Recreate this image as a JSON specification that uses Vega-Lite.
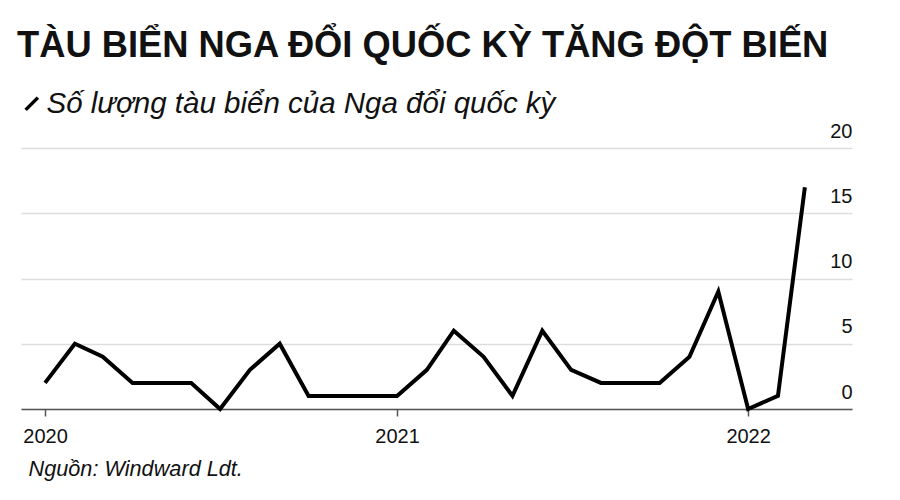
{
  "$schema": "https://vega.github.io/schema/vega-lite/v6.json",
  "width": 831,
  "height": 261,
  "autosize": {"type": "none"},
  "padding": {"left": 21, "top": 148, "right": 48, "bottom": 91},
  "background": "white",
  "title": {
    "text": "TÀU BIỂN NGA ĐỔI QUỐC KỲ TĂNG ĐỘT BIẾN",
    "anchor": "start",
    "font": "Liberation Sans",
    "fontSize": 36.3,
    "fontWeight": "bold",
    "color": "#111111",
    "offset": 25
  },
  "data": {
    "values": [
      {"date": "2020-01-01", "count": 2, "series": "Số lượng tàu biển của Nga đổi quốc kỳ"},
      {"date": "2020-02-01", "count": 5, "series": "Số lượng tàu biển của Nga đổi quốc kỳ"},
      {"date": "2020-03-01", "count": 4, "series": "Số lượng tàu biển của Nga đổi quốc kỳ"},
      {"date": "2020-04-01", "count": 2, "series": "Số lượng tàu biển của Nga đổi quốc kỳ"},
      {"date": "2020-05-01", "count": 2, "series": "Số lượng tàu biển của Nga đổi quốc kỳ"},
      {"date": "2020-06-01", "count": 2, "series": "Số lượng tàu biển của Nga đổi quốc kỳ"},
      {"date": "2020-07-01", "count": 0, "series": "Số lượng tàu biển của Nga đổi quốc kỳ"},
      {"date": "2020-08-01", "count": 3, "series": "Số lượng tàu biển của Nga đổi quốc kỳ"},
      {"date": "2020-09-01", "count": 5, "series": "Số lượng tàu biển của Nga đổi quốc kỳ"},
      {"date": "2020-10-01", "count": 1, "series": "Số lượng tàu biển của Nga đổi quốc kỳ"},
      {"date": "2020-11-01", "count": 1, "series": "Số lượng tàu biển của Nga đổi quốc kỳ"},
      {"date": "2020-12-01", "count": 1, "series": "Số lượng tàu biển của Nga đổi quốc kỳ"},
      {"date": "2021-01-01", "count": 1, "series": "Số lượng tàu biển của Nga đổi quốc kỳ"},
      {"date": "2021-02-01", "count": 3, "series": "Số lượng tàu biển của Nga đổi quốc kỳ"},
      {"date": "2021-03-01", "count": 6, "series": "Số lượng tàu biển của Nga đổi quốc kỳ"},
      {"date": "2021-04-01", "count": 4, "series": "Số lượng tàu biển của Nga đổi quốc kỳ"},
      {"date": "2021-05-01", "count": 1, "series": "Số lượng tàu biển của Nga đổi quốc kỳ"},
      {"date": "2021-06-01", "count": 6, "series": "Số lượng tàu biển của Nga đổi quốc kỳ"},
      {"date": "2021-07-01", "count": 3, "series": "Số lượng tàu biển của Nga đổi quốc kỳ"},
      {"date": "2021-08-01", "count": 2, "series": "Số lượng tàu biển của Nga đổi quốc kỳ"},
      {"date": "2021-09-01", "count": 2, "series": "Số lượng tàu biển của Nga đổi quốc kỳ"},
      {"date": "2021-10-01", "count": 2, "series": "Số lượng tàu biển của Nga đổi quốc kỳ"},
      {"date": "2021-11-01", "count": 4, "series": "Số lượng tàu biển của Nga đổi quốc kỳ"},
      {"date": "2021-12-01", "count": 9, "series": "Số lượng tàu biển của Nga đổi quốc kỳ"},
      {"date": "2022-01-01", "count": 0, "series": "Số lượng tàu biển của Nga đổi quốc kỳ"},
      {"date": "2022-02-01", "count": 1, "series": "Số lượng tàu biển của Nga đổi quốc kỳ"},
      {"date": "2022-03-01", "count": 17, "series": "Số lượng tàu biển của Nga đổi quốc kỳ"}
    ]
  },
  "mark": {"type": "line", "strokeWidth": 4, "strokeJoin": "miter", "strokeCap": "butt"},
  "encoding": {
    "x": {
      "field": "date",
      "type": "temporal",
      "scale": {
        "type": "utc",
        "domain": [
          {"year": 2019, "month": 12, "date": 7, "utc": true},
          {"year": 2022, "month": 4, "date": 19, "utc": true}
        ]
      },
      "axis": {
        "values": [
          {"year": 2020, "month": 1, "date": 1, "utc": true},
          {"year": 2021, "month": 1, "date": 1, "utc": true},
          {"year": 2022, "month": 1, "date": 1, "utc": true}
        ],
        "format": "%Y",
        "grid": false,
        "domainColor": "#555555",
        "domainWidth": 1.5,
        "tickColor": "#555555",
        "tickWidth": 1.5,
        "tickSize": 7,
        "labelFont": "Liberation Sans",
        "labelFontSize": 20,
        "labelColor": "#111111",
        "labelPadding": 10,
        "title": "Nguồn: Windward Ldt.",
        "titleFont": "Liberation Sans",
        "titleFontSize": 21.7,
        "titleFontStyle": "italic",
        "titleFontWeight": "normal",
        "titleColor": "#111111",
        "titleAnchor": "start",
        "titleAlign": "left",
        "titleBaseline": "alphabetic",
        "titleX": 7,
        "titleY": 66
      }
    },
    "y": {
      "field": "count",
      "type": "quantitative",
      "scale": {"domain": [0, 20]},
      "axis": {
        "orient": "right",
        "values": [0, 5, 10, 15, 20],
        "title": null,
        "domain": false,
        "ticks": false,
        "grid": true,
        "gridColor": "#dddddd",
        "gridWidth": 1.5,
        "labelAlign": "right",
        "labelBaseline": "alphabetic",
        "labelOffset": -11,
        "labelPadding": 0,
        "labelFont": "Liberation Sans",
        "labelFontSize": 20,
        "labelColor": "#111111"
      }
    },
    "color": {
      "field": "series",
      "type": "nominal",
      "scale": {"range": ["#000000"]},
      "legend": {
        "orient": "none",
        "legendX": -4,
        "legendY": -59,
        "padding": 0,
        "title": null,
        "symbolType": "M-1,1L1,-1",
        "symbolSize": 150,
        "symbolStrokeWidth": 3.5,
        "labelFont": "Liberation Sans",
        "labelFontSize": 29.5,
        "labelFontStyle": "italic",
        "labelColor": "#111111",
        "labelOffset": 0,
        "labelLimit": 0
      }
    }
  },
  "config": {"view": {"stroke": null}}
}
